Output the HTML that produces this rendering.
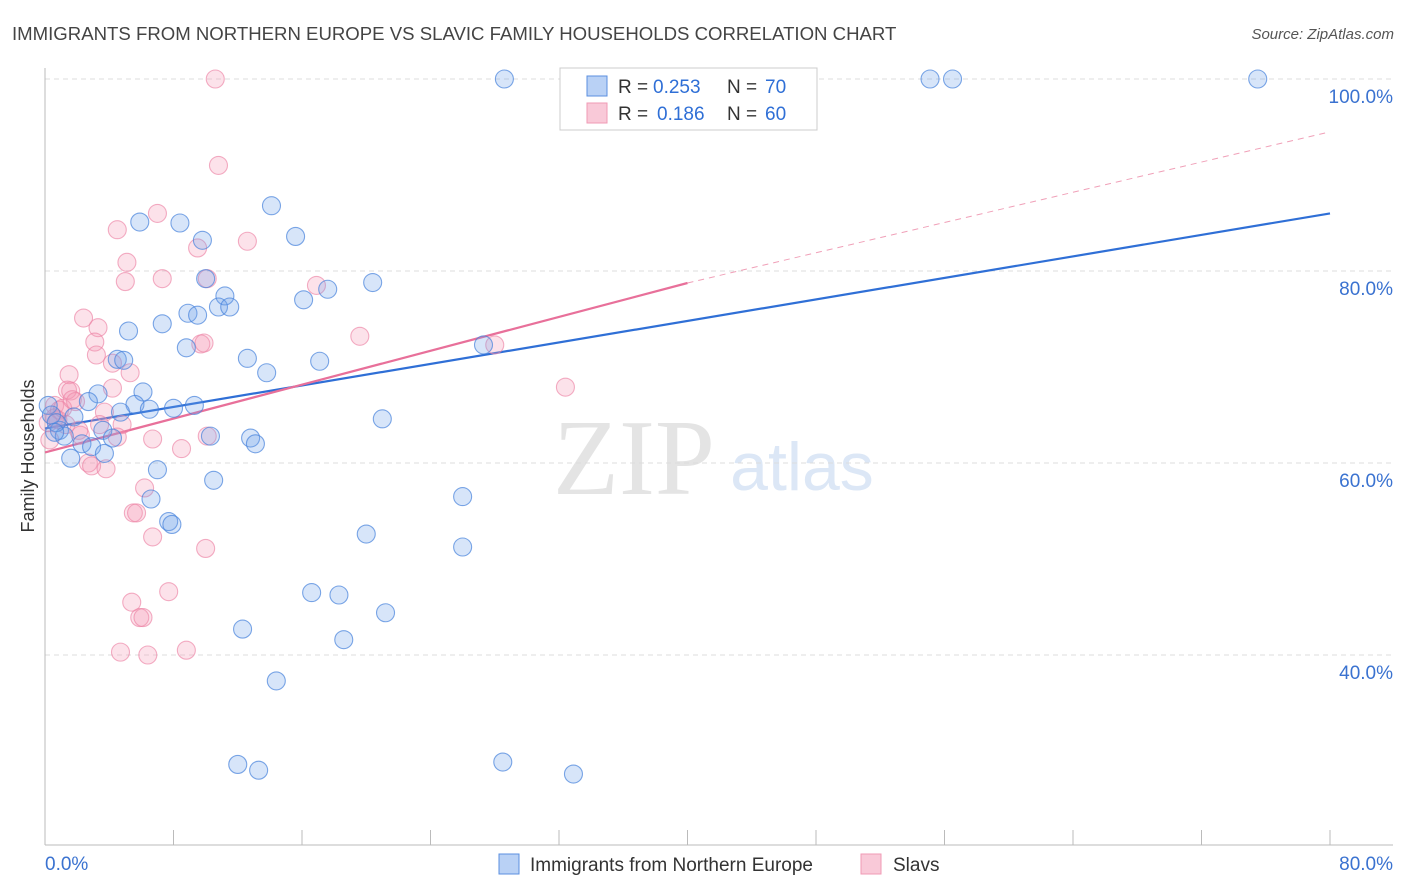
<!DOCTYPE html>
<html><head><meta charset="utf-8"><style>
body{margin:0;background:#fff;font-family:"Liberation Sans",sans-serif;}
svg{display:block}
</style></head><body>
<svg id="chart" width="1406" height="892">
<text x="12" y="40" font-size="18.6" fill="#444">IMMIGRANTS FROM NORTHERN EUROPE VS SLAVIC FAMILY HOUSEHOLDS CORRELATION CHART</text>
<text x="1394" y="39" font-size="15" fill="#555" font-style="italic" text-anchor="end">Source: ZipAtlas.com</text>
<text x="0" y="0" transform="translate(34,456) rotate(-90)" font-size="18" fill="#333" text-anchor="middle">Family Households</text>
<g>
<text x="634" y="494" font-family="Liberation Serif,serif" font-size="108" fill="#e4e4e4" text-anchor="middle">ZIP</text>
<text x="802" y="490" font-size="68" fill="#dce7f6" text-anchor="middle">atlas</text>
</g>
<g id="grid"></g><g id="axes"></g><g id="trends"></g><g id="points"></g>
<g>
<rect x="560" y="68" width="257" height="62" fill="#fff" stroke="#ccc"/>
<rect x="587" y="76" width="20" height="20" fill="#b9d1f5" stroke="#5b8fe0"/>
<rect x="587" y="103" width="20" height="20" fill="#f9c9d8" stroke="#f09ab5"/>
<text x="618" y="93" font-size="19" fill="#333">R =</text>
<text x="653" y="93" font-size="19" fill="#2f6fd6">0.253</text>
<text x="727" y="93" font-size="19" fill="#333">N =</text>
<text x="765" y="93" font-size="19" fill="#2f6fd6">70</text>
<text x="618" y="120" font-size="19" fill="#333">R =</text>
<text x="657" y="120" font-size="19" fill="#2f6fd6">0.186</text>
<text x="727" y="120" font-size="19" fill="#333">N =</text>
<text x="765" y="120" font-size="19" fill="#2f6fd6">60</text>
</g>
<g>
<rect x="499" y="854" width="20" height="20" fill="#b9d1f5" stroke="#5b8fe0"/>
<text x="530" y="871" font-size="19" fill="#333">Immigrants from Northern Europe</text>
<rect x="861" y="854" width="20" height="20" fill="#f9c9d8" stroke="#f09ab5"/>
<text x="893" y="871" font-size="19" fill="#333">Slavs</text>
</g>
</svg>
<script>
const blueX=[28.6,55.1,56.5,75.5,14.1,5.9,8.4,9.8,15.6,10.0,20.4,17.6,11.2,16.1,10.8,11.5,8.9,9.5,7.3,5.2,8.8,27.3,12.6,4.5,4.9,17.1,13.8,6.1,3.3,2.7,5.6,6.5,8.0,9.3,4.7,1.8,21.0,0.2,0.4,0.9,1.2,0.7,3.6,10.3,12.8,13.1,2.3,2.9,4.2,1.6,3.7,7.0,10.5,6.6,26.0,7.7,7.9,20.0,26.0,16.6,18.3,21.2,12.3,18.6,14.4,12.0,13.3,28.5,32.9,0.6];
const blueY=[100,100,100,100,86.8,85.1,85.0,83.2,83.6,79.2,78.8,78.1,77.4,77.0,76.25,76.25,75.6,75.4,74.5,73.75,72.0,72.3,70.9,70.8,70.7,70.6,69.4,67.4,67.2,66.4,66.1,65.6,65.7,66.0,65.3,64.8,64.6,66.0,65.0,63.4,62.8,64.2,63.4,62.8,62.6,62.0,62.0,61.7,62.6,60.5,61.0,59.3,58.2,56.25,56.5,53.9,53.6,52.6,51.25,46.5,46.25,44.4,42.7,41.6,37.3,28.6,28.0,28.85,27.6,63.2];
const pinkX=[10.6,10.8,7.0,4.5,12.6,9.5,5.1,5.0,7.3,10.1,16.9,2.4,3.3,3.1,19.6,9.7,9.9,3.2,4.2,5.3,1.5,1.4,1.6,4.2,28.0,32.4,0.6,0.9,1.9,0.8,3.7,0.2,2.2,4.8,3.4,4.5,6.7,8.5,10.1,2.7,2.9,3.8,6.2,5.5,5.7,6.7,10.0,7.7,5.4,5.9,6.1,4.7,6.4,8.8,0.3,1.1,0.6,1.3,1.7,2.1];
const pinkY=[100,91.0,86.0,84.3,83.1,82.4,80.9,78.9,79.2,79.2,78.5,75.1,74.1,72.6,73.2,72.4,72.5,71.25,70.4,69.4,69.2,67.6,67.5,67.8,72.3,67.9,66.0,65.5,66.4,64.5,65.3,64.2,62.9,64.0,64.0,62.7,62.5,61.5,62.8,60.0,59.7,59.4,57.4,54.8,54.8,52.3,51.1,46.6,45.5,43.9,43.9,40.3,40.0,40.5,62.4,65.7,64.7,64.0,66.6,63.4];
const blueTrendX=[0,80], blueTrendY=[63.6,86.0];
const pinkTrendX=[0,40], pinkTrendY=[61.1,78.75];
const pinkDashX=[40,80], pinkDashY=[78.75,94.5];
const yTicks=[100,80,60,40];
const yTickLabels=["100.0%","80.0%","60.0%","40.0%"];
const xTickVals=[0,8,16,24,32,40,48,56,64,72,80];

const NS="http://www.w3.org/2000/svg";
const sx=v=>45+v*1285/80;
const sy=v=>79+(100-v)*9.6;
function mk(parent,tag,attrs){const e=document.createElementNS(NS,tag);for(const k in attrs)e.setAttribute(k,attrs[k]);document.getElementById(parent).appendChild(e);return e;}

yTicks.forEach((t,i)=>{
  const g=mk('grid','line',{x1:45,x2:1393,y1:sy(t),y2:sy(t),stroke:'#ddd','stroke-dasharray':'5,4'});
  
  
  const l=mk('grid','text',{x:1393,y:sy(t)+24,'font-size':19,fill:'#3a72d0','text-anchor':'end'});
  l.textContent=yTickLabels[i];
  
  
});
let ax=mk('axes','line',{x1:45,x2:45,y1:68,y2:845,stroke:'#bbb'});


ax=mk('axes','line',{x1:45,x2:1393,y1:845,y2:845,stroke:'#bbb'});


xTickVals.forEach(v=>{
  const t=mk('axes','line',{x1:sx(v),x2:sx(v),y1:830,y2:845,stroke:'#bbb'});
  
  
});
let xl=mk('axes','text',{x:45,y:870,'font-size':19,fill:'#3a72d0'});xl.textContent='0.0%';


xl=mk('axes','text',{x:1393,y:870,'font-size':19,fill:'#3a72d0','text-anchor':'end'});xl.textContent='80.0%';



function pts(X,Y,fill,stroke,name){
  X.forEach((x,i)=>{
    const c=mk('points','circle',{cx:sx(x),cy:sy(Y[i]),r:9,fill:fill,stroke:stroke,'stroke-width':1.1});
    
    
  });
}
pts(pinkX,pinkY,'rgba(244,150,180,0.28)','rgba(236,130,165,0.65)','slavs-point');
pts(blueX,blueY,'rgba(110,160,235,0.28)','rgba(70,130,220,0.7)','northern-europe-point');

let tl=mk('trends','line',{x1:sx(blueTrendX[0]),y1:sy(blueTrendY[0]),x2:sx(blueTrendX[1]),y2:sy(blueTrendY[1]),stroke:'#2f6fd6','stroke-width':2.2});


tl=mk('trends','line',{x1:sx(pinkTrendX[0]),y1:sy(pinkTrendY[0]),x2:sx(pinkTrendX[1]),y2:sy(pinkTrendY[1]),stroke:'#e8709a','stroke-width':2.2});


tl=mk('trends','line',{x1:sx(pinkDashX[0]),y1:sy(pinkDashY[0]),x2:sx(pinkDashX[1]),y2:sy(pinkDashY[1]),stroke:'#f0a0b8','stroke-width':1,'stroke-dasharray':'6,5'});


</script>
</body></html>
